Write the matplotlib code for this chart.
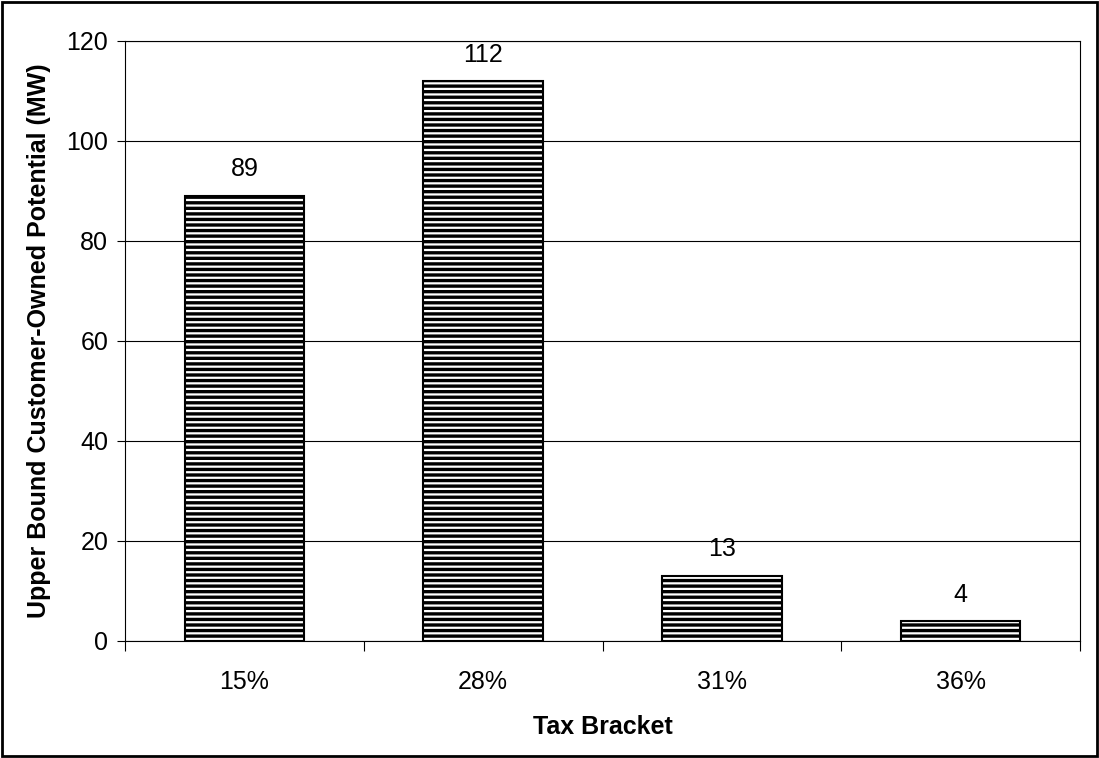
import matplotlib
matplotlib.use("Agg")
import matplotlib.pyplot as plt
from matplotlib.patches import Rectangle

plt.rcParams['font.family'] = ['Liberation Sans', 'DejaVu Sans']
plt.rcParams['hatch.linewidth'] = 2.4
plt.rcParams['hatch.color'] = 'black'

# tax brackets and upper bound potential (MW)
brackets = ['15%', '28%', '31%', '36%']
potential = [89, 112, 13, 4]
yticks = [0, 20, 40, 60, 80, 100, 120]

fig = plt.figure(figsize=(10.99, 7.58), dpi=100)
ax = fig.add_axes([125 / 1099, 1 - 641 / 758, (1080 - 125) / 1099, (641 - 41) / 758])

x = list(range(len(brackets)))
ax.bar(x, potential, width=0.5, color='white', edgecolor='black',
       linewidth=1.5, hatch='---', zorder=3)

for xi, v in zip(x, potential):
    ax.text(xi, v + 5.3, str(v), ha='center', va='center', fontsize=18)

ax.set_xlim(-0.5, len(brackets) - 0.5)
ax.set_ylim(0, 120)
ax.set_yticks(yticks)
ax.yaxis.grid(True, color='black', linewidth=0.8)
ax.set_axisbelow(True)

# category labels centred, tick marks on the category boundaries
ax.set_xticks(x)
ax.set_xticklabels(brackets, fontsize=18)
ax.tick_params(axis='x', length=0, pad=21)
ax.set_xticks([i - 0.5 for i in range(len(brackets) + 1)], minor=True)
ax.tick_params(axis='x', which='minor', length=7, direction='out', width=0.8)
ax.tick_params(axis='y', length=6, direction='out', width=0.8, labelsize=18, pad=6)

for s in ax.spines.values():
    s.set_linewidth(0.8)
    s.set_color('black')

ax.set_xlabel('Tax Bracket', fontsize=18, fontweight='bold', labelpad=15)
ax.set_ylabel('Upper Bound Customer-Owned Potential (MW)', fontsize=18,
              fontweight='bold', labelpad=11)

fig.patches.append(Rectangle((0.002, 0.003), 0.996, 0.995, transform=fig.transFigure,
                             fill=False, edgecolor='black', linewidth=2))

fig.savefig('out.png', dpi=100)
